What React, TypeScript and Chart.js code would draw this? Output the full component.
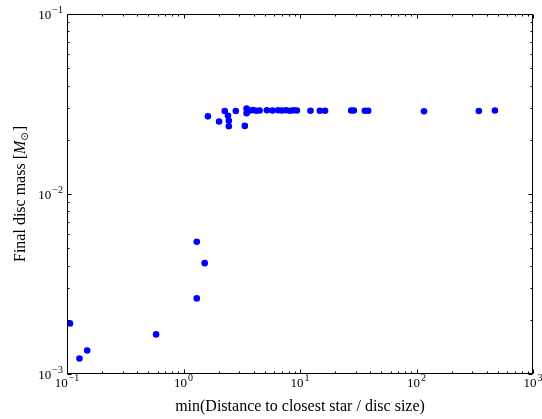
import React, { useEffect, useRef } from "react";
import { Chart, registerables } from "chart.js";

Chart.register(...registerables);

// min(distance to closest star / disc size)
const distanceRatio = [
  0.106, 0.128, 0.149, 0.582, 1.3, 1.52, 1.3,
  1.62, 2.02, 2.26, 2.41, 2.45, 2.45, 2.81, 3.36, 3.48, 3.48, 3.71, 3.95, 4.2, 4.5,
  5.2, 5.8, 6.5, 7.0, 7.6, 8.2, 8.8, 9.4, 12.3, 14.8, 16.4, 27.5, 29.0, 36.0, 38.5,
  116, 343, 471,
];
// final disc mass [M_sun]
const discMass = [
  0.00191, 0.00122, 0.00135, 0.00166, 0.00543, 0.00413, 0.00263,
  0.027, 0.0253, 0.0289, 0.0272, 0.0255, 0.0238, 0.0289, 0.0239, 0.0298, 0.0281, 0.0291, 0.0293, 0.029, 0.0291,
  0.0292, 0.0291, 0.0292, 0.0291, 0.0292, 0.029, 0.0292, 0.0291, 0.029, 0.029, 0.029, 0.0291, 0.0291, 0.029, 0.029,
  0.0288, 0.0289, 0.0291,
];

const xTickExponents = [-1, 0, 1, 2, 3];
const yTickExponents = [-3, -2, -1];
const xTitle = "min(Distance to closest star / disc size)";
const yTitleParts = ["Final disc mass [", "M", "⊙", "]"];

const FONT = "'Liberation Serif', 'DejaVu Serif', serif";

function drawPow(ctx: CanvasRenderingContext2D, exp: number, x: number, y: number, align: "center" | "right") {
  const base = "10";
  const sup = exp < 0 ? "\u2212" + Math.abs(exp) : String(exp);
  ctx.font = `13px ${FONT}`;
  const wb = ctx.measureText(base).width;
  ctx.font = `10px ${FONT}`;
  const ws = ctx.measureText(sup).width;
  const total = wb + 1 + ws;
  const x0 = align === "center" ? x - total / 2 : x - total;
  ctx.textAlign = "left";
  ctx.textBaseline = "alphabetic";
  ctx.fillStyle = "#000";
  ctx.font = `13px ${FONT}`;
  ctx.fillText(base, x0, y);
  ctx.font = `10px ${FONT}`;
  ctx.fillText(sup, x0 + wb + 1, y - 6);
}

const framePlugin = {
  id: "mplFrame",
  afterDatasetsDraw(chart: any) {
    const { ctx, chartArea: a, scales } = chart;
    const xs = scales.x;
    const ys = scales.y;
    ctx.save();
    ctx.strokeStyle = "#000";
    ctx.lineWidth = 1;
    const L = Math.round(a.left) + 0.5;
    const R = Math.round(a.right) - 0.5;
    const T = Math.round(a.top) + 0.5;
    const B = Math.round(a.bottom) - 0.5;
    ctx.strokeRect(L, T, R - L, B - T);

    ctx.beginPath();
    // x ticks
    for (let e = xTickExponents[0]; e < xTickExponents[xTickExponents.length - 1] + 1; e++) {
      for (let m = 1; m <= 9; m++) {
        const v = m * Math.pow(10, e);
        if (v < xs.min * 0.999 || v > xs.max * 1.001) continue;
        const px = Math.round(xs.getPixelForValue(v)) + 0.5;
        const len = m === 1 ? 4 : 2;
        ctx.moveTo(px, B);
        ctx.lineTo(px, B - len);
        ctx.moveTo(px, T);
        ctx.lineTo(px, T + len);
      }
    }
    // y ticks
    for (let e = yTickExponents[0]; e < yTickExponents[yTickExponents.length - 1] + 1; e++) {
      for (let m = 1; m <= 9; m++) {
        const v = m * Math.pow(10, e);
        if (v < ys.min * 0.999 || v > ys.max * 1.001) continue;
        const py = Math.round(ys.getPixelForValue(v)) + 0.5;
        const len = m === 1 ? 4 : 2;
        ctx.moveTo(L, py);
        ctx.lineTo(L + len, py);
        ctx.moveTo(R, py);
        ctx.lineTo(R - len, py);
      }
    }
    ctx.stroke();

    // tick labels
    xTickExponents.forEach((e) => {
      const px = xs.getPixelForValue(Math.pow(10, e));
      drawPow(ctx, e, px, a.bottom + 13, "center");
    });
    yTickExponents.forEach((e) => {
      const py = ys.getPixelForValue(Math.pow(10, e));
      drawPow(ctx, e, a.left - 4, py + 4.5, "right");
    });

    // y title with italic M and sun subscript
    const fonts = [`16px ${FONT}`, `italic 16px ${FONT}`, `10px 'DejaVu Sans', sans-serif`, `16px ${FONT}`];
    const widths = yTitleParts.map((t, i) => {
      ctx.font = fonts[i];
      return ctx.measureText(t).width;
    });
    const total = widths.reduce((s, w) => s + w, 0) + 1;
    const cy = (a.top + a.bottom) / 2;
    ctx.translate(25, cy);
    ctx.rotate(-Math.PI / 2);
    let cx = -total / 2;
    ctx.fillStyle = "#000";
    ctx.textBaseline = "alphabetic";
    ctx.textAlign = "left";
    yTitleParts.forEach((t, i) => {
      ctx.font = fonts[i];
      const dy = i === 2 ? 3 : 0;
      ctx.fillText(t, cx, dy);
      cx += widths[i] + (i === 2 ? 1 : 0);
    });
    ctx.restore();
  },
};

export default function App() {
  const ref = useRef<HTMLCanvasElement | null>(null);
  useEffect(() => {
    if (!ref.current) return;
    const points = distanceRatio.map((x, i) => ({ x, y: discMass[i] }));
    const chart = new Chart(ref.current, {
      type: "scatter",
      data: {
        datasets: [
          {
            data: points,
            backgroundColor: "#0000ff",
            borderColor: "#0000ff",
            borderWidth: 0,
            pointRadius: 3.3,
            pointHoverRadius: 3.3,
          },
        ],
      },
      options: {
        animation: false,
        responsive: false,
        devicePixelRatio: 1,
        layout: { padding: { top: 14, right: 9, left: 0, bottom: 0 } },
        plugins: { legend: { display: false }, tooltip: { enabled: false } },
        scales: {
          x: {
            type: "logarithmic",
            min: 0.1,
            max: 1000,
            position: "bottom",
            grid: { display: false },
            border: { display: false },
            ticks: { display: false },
            title: {
              display: true,
              text: xTitle,
              color: "#000",
              font: { family: FONT, size: 16 },
              padding: { top: 0, bottom: 3 },
            },
            afterFit: (s: any) => {
              s.height = 45;
            },
          },
          y: {
            type: "logarithmic",
            min: 0.001,
            max: 0.1,
            position: "left",
            grid: { display: false },
            border: { display: false },
            ticks: { display: false },
            title: { display: false },
            afterFit: (s: any) => {
              s.width = 67;
            },
          },
        },
      },
      plugins: [framePlugin],
    });
    return () => chart.destroy();
  }, []);
  return (
    <div style={{ position: "absolute", left: 0, top: 0, width: 542, height: 419, background: "#fff" }}>
      <canvas ref={ref} width={542} height={419} />
    </div>
  );
}
